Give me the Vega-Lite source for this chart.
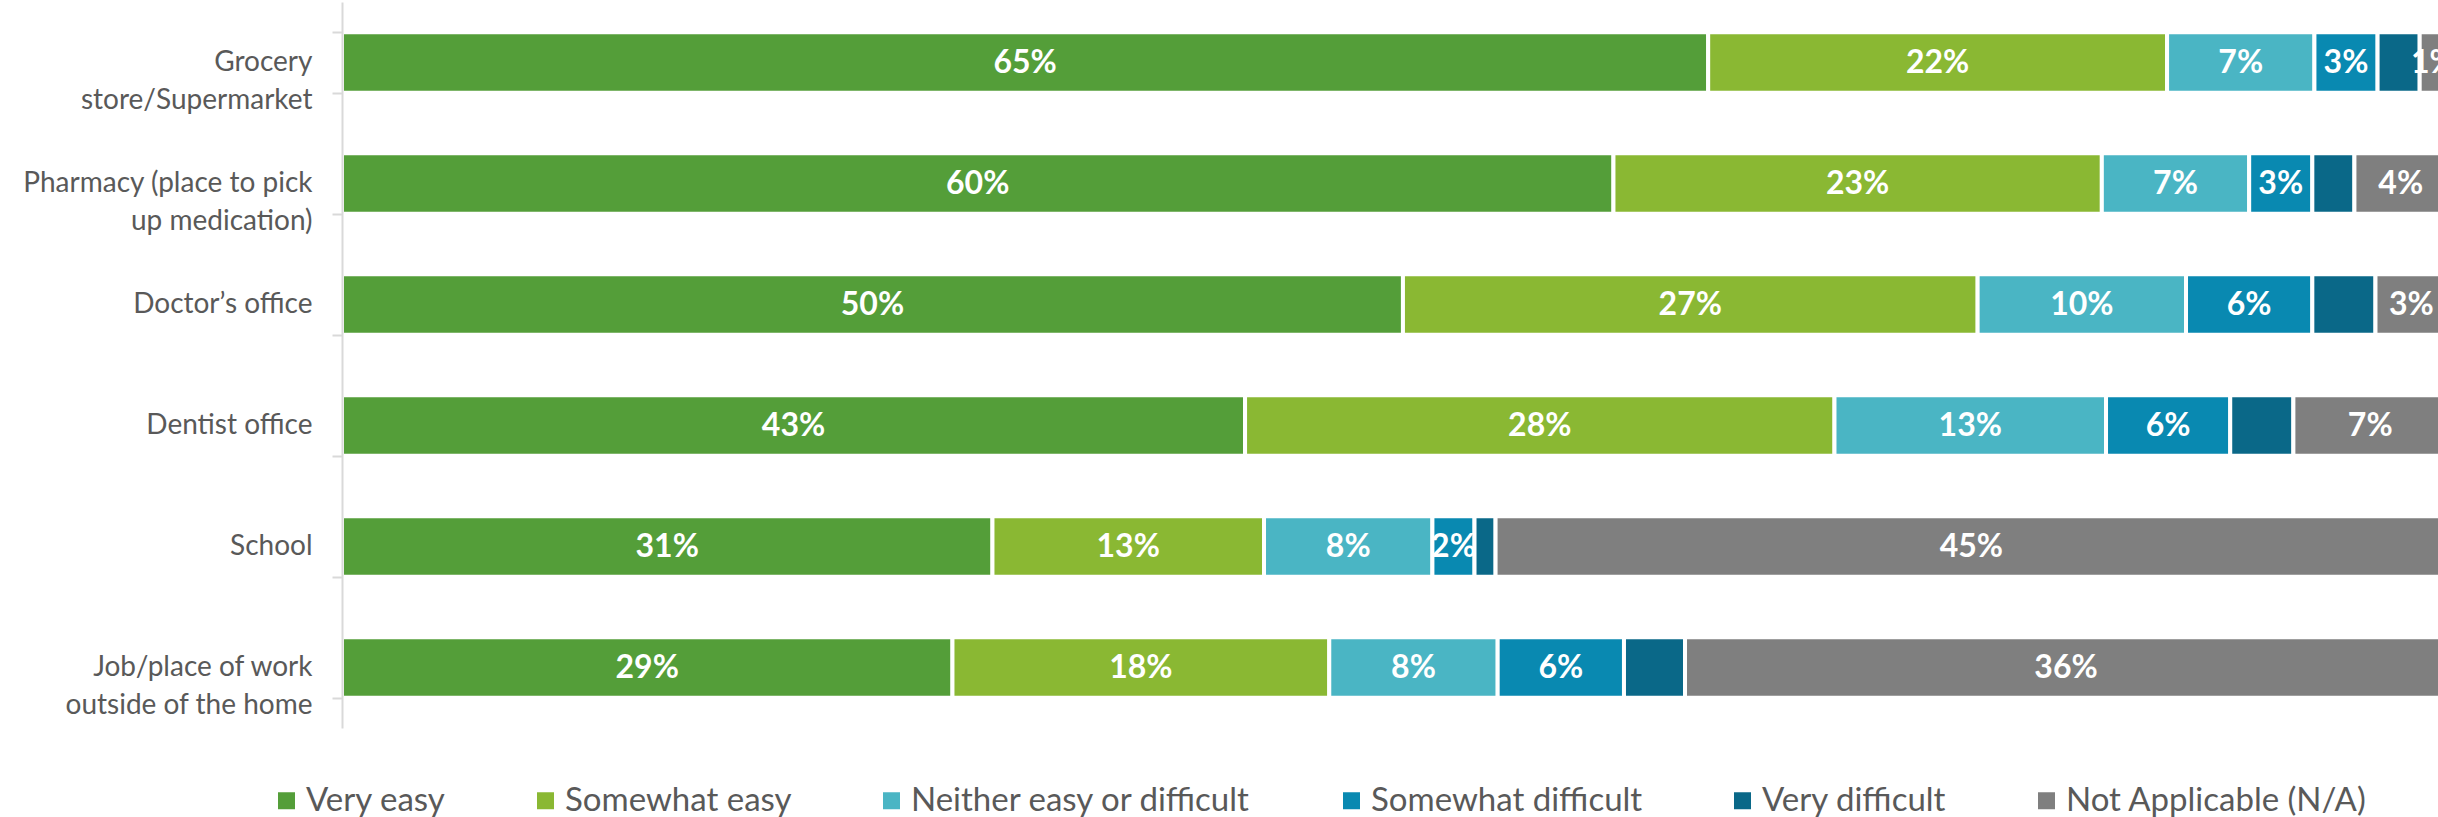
{
  "$schema": "https://vega.github.io/schema/vega-lite/v6.json",
  "width": 2096,
  "height": 726,
  "autosize": "none",
  "padding": {"left": 342, "top": 2, "right": 0, "bottom": 89},
  "background": "white",
  "config": {"view": {"stroke": null}, "font": "Lato"},
  "data": {
    "values": [
      {"place": "Grocery|store/Supermarket", "level": "Very easy", "k": 1, "share": 0.649},
      {"place": "Grocery|store/Supermarket", "level": "Somewhat easy", "k": 2, "share": 0.218},
      {"place": "Grocery|store/Supermarket", "level": "Neither easy or difficult", "k": 3, "share": 0.070},
      {"place": "Grocery|store/Supermarket", "level": "Somewhat difficult", "k": 4, "share": 0.030},
      {"place": "Grocery|store/Supermarket", "level": "Very difficult", "k": 5, "share": 0.020},
      {"place": "Grocery|store/Supermarket", "level": "Not Applicable (N/A)", "k": 6, "share": 0.013},
      {"place": "Pharmacy (place to pick|up medication)", "level": "Very easy", "k": 1, "share": 0.604},
      {"place": "Pharmacy (place to pick|up medication)", "level": "Somewhat easy", "k": 2, "share": 0.232},
      {"place": "Pharmacy (place to pick|up medication)", "level": "Neither easy or difficult", "k": 3, "share": 0.070},
      {"place": "Pharmacy (place to pick|up medication)", "level": "Somewhat difficult", "k": 4, "share": 0.030},
      {"place": "Pharmacy (place to pick|up medication)", "level": "Very difficult", "k": 5, "share": 0.020},
      {"place": "Pharmacy (place to pick|up medication)", "level": "Not Applicable (N/A)", "k": 6, "share": 0.044},
      {"place": "Doctor’s office", "level": "Very easy", "k": 1, "share": 0.504},
      {"place": "Doctor’s office", "level": "Somewhat easy", "k": 2, "share": 0.273},
      {"place": "Doctor’s office", "level": "Neither easy or difficult", "k": 3, "share": 0.099},
      {"place": "Doctor’s office", "level": "Somewhat difficult", "k": 4, "share": 0.060},
      {"place": "Doctor’s office", "level": "Very difficult", "k": 5, "share": 0.030},
      {"place": "Doctor’s office", "level": "Not Applicable (N/A)", "k": 6, "share": 0.034},
      {"place": "Dentist office", "level": "Very easy", "k": 1, "share": 0.429},
      {"place": "Dentist office", "level": "Somewhat easy", "k": 2, "share": 0.280},
      {"place": "Dentist office", "level": "Neither easy or difficult", "k": 3, "share": 0.129},
      {"place": "Dentist office", "level": "Somewhat difficult", "k": 4, "share": 0.059},
      {"place": "Dentist office", "level": "Very difficult", "k": 5, "share": 0.030},
      {"place": "Dentist office", "level": "Not Applicable (N/A)", "k": 6, "share": 0.073},
      {"place": "School", "level": "Very easy", "k": 1, "share": 0.309},
      {"place": "School", "level": "Somewhat easy", "k": 2, "share": 0.129},
      {"place": "School", "level": "Neither easy or difficult", "k": 3, "share": 0.080},
      {"place": "School", "level": "Somewhat difficult", "k": 4, "share": 0.020},
      {"place": "School", "level": "Very difficult", "k": 5, "share": 0.010},
      {"place": "School", "level": "Not Applicable (N/A)", "k": 6, "share": 0.452},
      {"place": "Job/place of work|outside of the home", "level": "Very easy", "k": 1, "share": 0.290},
      {"place": "Job/place of work|outside of the home", "level": "Somewhat easy", "k": 2, "share": 0.179},
      {"place": "Job/place of work|outside of the home", "level": "Neither easy or difficult", "k": 3, "share": 0.080},
      {"place": "Job/place of work|outside of the home", "level": "Somewhat difficult", "k": 4, "share": 0.060},
      {"place": "Job/place of work|outside of the home", "level": "Very difficult", "k": 5, "share": 0.029},
      {"place": "Job/place of work|outside of the home", "level": "Not Applicable (N/A)", "k": 6, "share": 0.362}
    ]
  },
  "encoding": {
    "y": {
      "field": "place",
      "type": "nominal",
      "sort": null,
      "scale": {"paddingInner": 0.5, "paddingOuter": 0.25},
      "axis": {
        "title": null,
        "labelFont": "Lato",
        "labelFontSize": 28,
        "labelColor": "#595959",
        "labelAlign": "right",
        "labelBaseline": "middle",
        "labelLineHeight": 38,
        "labelPadding": 20,
        "labelLimit": 500,
        "labelExpr": "split(datum.label, '|')",
        "tickBand": "extent",
        "tickSize": 10,
        "tickWidth": 2,
        "tickColor": "#D9D9D9",
        "domainColor": "#D9D9D9",
        "domainWidth": 2,
        "grid": false,
        "zindex": 1
      }
    },
    "x": {
      "field": "share",
      "type": "quantitative",
      "stack": "zero",
      "scale": {"domain": [0, 0.9957], "nice": false},
      "axis": null
    },
    "order": {"field": "k", "type": "quantitative"}
  },
  "layer": [
    {
      "mark": {"type": "bar", "stroke": "white", "strokeWidth": 4, "clip": true},
      "encoding": {
        "color": {
          "field": "level",
          "type": "nominal",
          "scale": {
            "domain": ["Very easy", "Somewhat easy", "Neither easy or difficult", "Somewhat difficult", "Very difficult", "Not Applicable (N/A)"],
            "range": ["#549E39", "#8AB833", "#4AB5C4", "#0989B1", "#0A6888", "#7F7F7F"]
          },
          "legend": {
            "title": null,
            "orient": "none",
            "legendX": -72,
            "legendY": 782,
            "direction": "horizontal",
            "columns": 6,
            "symbolType": "square",
            "symbolSize": 289,
            "symbolStrokeWidth": 0,
            "symbolOpacity": 1,
            "labelFont": "Lato",
            "labelFontSize": 33,
            "labelColor": "#595959",
            "labelOffset": 3,
            "columnPadding": 83,
            "labelLimit": 600,
            "padding": 0
          }
        }
      }
    },
    {
      "mark": {"type": "text", "color": "white", "font": "Lato", "fontWeight": "bold", "fontSize": 32, "baseline": "middle", "align": "center", "clip": true},
      "encoding": {
        "x": {"field": "share", "type": "quantitative", "stack": "zero", "bandPosition": 0.5},
        "detail": {"field": "level", "type": "nominal"},
        "text": {
          "condition": {"test": "datum.level === 'Very difficult'", "value": ""},
          "field": "share",
          "type": "quantitative",
          "format": ".0%"
        }
      }
    }
  ]
}
